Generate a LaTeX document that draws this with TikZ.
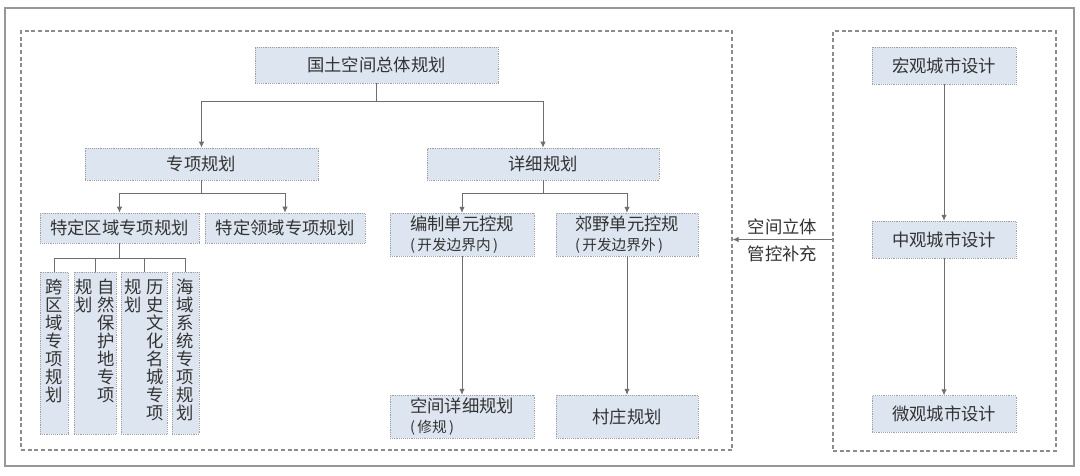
\documentclass[tikz,border=0pt]{standalone}
\usepackage{fontspec}
\setmainfont{Noto Sans CJK SC}
\usetikzlibrary{arrows.meta,positioning}
\definecolor{cBoxFill}{HTML}{DDE6F0}
\definecolor{cBoxLine}{HTML}{A0A0A0}
\definecolor{cLink}{HTML}{6E6E6E}
\definecolor{cFrame}{HTML}{8C8C8C}
\definecolor{cText}{HTML}{333333}
\newcommand\vcol[1]{\parbox[t]{13pt}{\centering #1}}
\newcommand\smallcjk{\fontsize{11}{12}\selectfont}

\begin{document}
\begin{tikzpicture}[x=0.75pt,y=-0.75pt,
  planbox/.style={draw=cBoxLine,densely dotted,fill=cBoxFill,text=cText,
    font=\fontsize{13}{14.5}\selectfont,inner sep=0pt},
  vplanbox/.style={draw=cBoxLine,densely dotted,fill=cBoxFill,inner sep=0pt,
    minimum width=#1,minimum height=121.5pt},
  vtxt/.style={text=cText,font=\fontsize{13}{13.5}\selectfont,inner sep=0pt},
  dashframe/.style={draw=cFrame,dash pattern=on 3pt off 2pt,line width=0.8pt,inner sep=0pt},
  linkline/.style={draw=cLink,line width=0.7pt},
  linkarrow/.style={linkline,-{Latex[length=4.5pt,width=4pt]}},
  note/.style={text=cText,font=\fontsize{13}{15}\selectfont}]
  \fill [white] (0,0) rectangle (1080,475);
  \useasboundingbox (0,0) rectangle (1080,475);
  \draw [cFrame!90, line width=1.2pt] (5,8) rectangle (1074,466);

  % frames
  \node [dashframe, minimum width=533.25pt, minimum height=314.25pt] (lf) at (376.5,240.5) {};
  \node [dashframe, minimum width=167.25pt, minimum height=315pt] (rf) at (944.5,241) {};

  % planning system
  \node [planbox, minimum width=182pt, minimum height=27pt] (gt) at (376.5,65) {国土空间总体规划};
  \node [planbox, minimum width=175pt, minimum height=24pt] (zx) at (201.5,164) {专项规划};
  \node [planbox, minimum width=174pt, minimum height=24pt] (xx) at (543,164) {详细规划};

  \node [planbox, minimum width=119pt, minimum height=22.5pt] (tq) at (119.5,228) {特定区域专项规划};
  \node [planbox, minimum width=120pt, minimum height=22.5pt] (tl) at (285,228) {特定领域专项规划};

  \node [vplanbox=21pt] (kq) at (54,353) {};
  \node [vplanbox=31.5pt] (zr) at (95,353) {};
  \node [vplanbox=34.5pt] (ls) at (144,353) {};
  \node [vplanbox=20.25pt] (hy) at (185.5,353) {};
  \node [vtxt, below=5.5pt of kq.north] (kqt) {\vcol{跨\\区\\域\\专\\项\\规\\划}};
  \node [vtxt, below=5.5pt of zr.north] (zrt) {\vcol{规\\划}\hspace{3pt}\vcol{自\\然\\保\\护\\地\\专\\项}};
  \node [vtxt, below=5.5pt of ls.north] (lst) {\vcol{规\\划}\hspace{3.5pt}\vcol{历\\史\\文\\化\\名\\城\\专\\项}};
  \node [vtxt, below=5.5pt of hy.north] (hyt) {\vcol{海\\域\\系\\统\\专\\项\\规\\划}};

  \node [planbox, align=left, minimum width=108pt, minimum height=32pt] (bz) at (462,234.5)
    {编制单元控规\\{\smallcjk(\,开发边界内\,)}};
  \node [planbox, align=left, minimum width=106.5pt, minimum height=32pt] (jy) at (627,234.5)
    {郊野单元控规\\{\smallcjk(\,开发边界外\,)}};
  \node [planbox, align=left, minimum width=108pt, minimum height=32pt] (kj) at (462,416.5)
    {空间详细规划\\{\smallcjk(\,修规\,)}};
  \node [planbox, minimum width=106.5pt, minimum height=32pt] (cz) at (627,416.5) {村庄规划};

  % urban design
  \node [planbox, minimum width=108pt, minimum height=27.5pt] (hg) at (944,65.5) {宏观城市设计};
  \node [planbox, minimum width=108pt, minimum height=27.5pt] (zg) at (944,239.5) {中观城市设计};
  \node [planbox, minimum width=108pt, minimum height=27.5pt] (wg) at (944,414) {微观城市设计};

  % connectors
  \draw [linkarrow] (gt.south) -- ++(0,18) -| (zx.north);
  \draw [linkarrow] (gt.south) -- ++(0,18) -| (xx.north);
  \draw [linkarrow] (zx.south) -- ++(0,13) -| (tq.north);
  \draw [linkarrow] (zx.south) -- ++(0,13) -| (tl.north);
  \foreach \b in {kq,zr,ls,hy}
    \draw [linkline] (tq.south) -- ++(0,15) -| (\b.north);
  \draw [linkarrow] (xx.south) -- ++(0,13) -| (bz.north);
  \draw [linkarrow] (xx.south) -- ++(0,13) -| (jy.north);
  \draw [linkarrow] (bz) -- (kj);
  \draw [linkarrow] (jy) -- (cz);
  \draw [linkarrow] (hg) -- (zg);
  \draw [linkarrow] (zg) -- (wg);
  \draw [linkarrow] (zg.west -| rf.west) -- (zg.west -| lf.east)
    node [note, midway, above] (lk) {空间立体}
    node [note, midway, below=1pt] (lb) {管控补充};
\end{tikzpicture}
\end{document}
